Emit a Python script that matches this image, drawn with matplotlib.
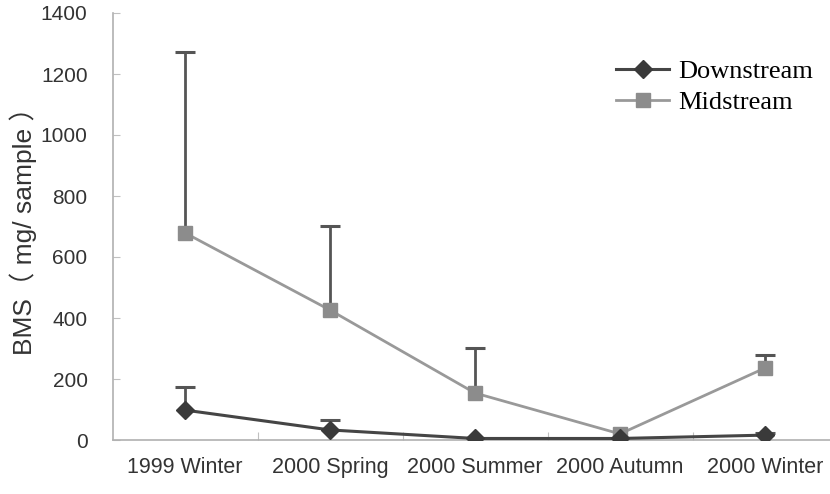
import numpy as np
import matplotlib.pyplot as plt

seasons = ['1999 Winter', '2000 Spring', '2000 Summer', '2000 Autumn', '2000 Winter']
downstream = [98, 33, 5, 5, 16]
downstream_err = [76, 33, 0, 0, 8]
midstream = [679, 426, 154, 20, 236]
midstream_err = [593, 276, 148, 0, 43]

tickFont = 'Liberation Sans'

W, H = 830, 494
fig = plt.figure(figsize=(W / 100, H / 100), dpi=100)
ax = fig.add_axes([112.5 / W, 54 / H, 725 / W, 427 / H])

x = np.arange(len(seasons))

# error bars, upper side only
for vals, errs in [(midstream, midstream_err), (downstream, downstream_err)]:
    vals = np.array(vals)
    errs = np.array(errs)
    has = errs > 0
    ax.vlines(x[has], vals[has], vals[has] + errs[has], color='#555555', lw=2, zorder=2)
    ax.plot(x[has], vals[has] + errs[has], ls='none', marker='_', ms=15, mew=2.2,
            color='#555555', zorder=2)

lm, = ax.plot(x, midstream, color='#999999', lw=2, marker='s', ms=10,
              mfc='#8c8c8c', mec='#8c8c8c', zorder=3)
ld, = ax.plot(x, downstream, color='#454545', lw=2.2, marker='D', ms=9,
              mfc='#3a3a3a', mec='#3a3a3a', zorder=4)

ax.set_xlim(-0.5, 4.5)
ax.set_ylim(0, 1400)
ax.set_yticks(np.arange(0, 1401, 200))
ax.set_xticks([0.5, 1.5, 2.5, 3.5])
ax.set_xticklabels([])
ax.set_xticks(x, minor=True)
ax.set_xticklabels(seasons, minor=True, family=tickFont, fontsize=15.5, color='#333333')
ax.tick_params(axis='x', which='minor', length=0, pad=12)
ax.tick_params(axis='x', which='major', direction='in', length=6, color='#c0c0c0')
ax.tick_params(axis='y', direction='in', length=5, color='#c0c0c0', pad=18)
for lab in ax.get_yticklabels():
    lab.set_family(tickFont)
    lab.set_fontsize(15)
    lab.set_color('#333333')

for s in ['top', 'right']:
    ax.spines[s].set_visible(False)
for s in ['left', 'bottom']:
    ax.spines[s].set_color('#b0b0b0')
    ax.spines[s].set_linewidth(1.2)

ax.set_ylabel('BMS（ mg/ sample ）', family=[tickFont, 'Noto Sans CJK SC'],
              fontsize=19, color='#333333')
ax.yaxis.set_label_coords(-0.104, 0.505)

ax.legend([ld, lm], ['Downstream', 'Midstream'], loc='upper left',
          bbox_to_anchor=(0.662, 0.946), frameon=False,
          prop={'family': 'Liberation Serif', 'size': 19},
          handlelength=2.0, handletextpad=0.35, labelspacing=0.28)

fig.savefig('out.png', dpi=100)
